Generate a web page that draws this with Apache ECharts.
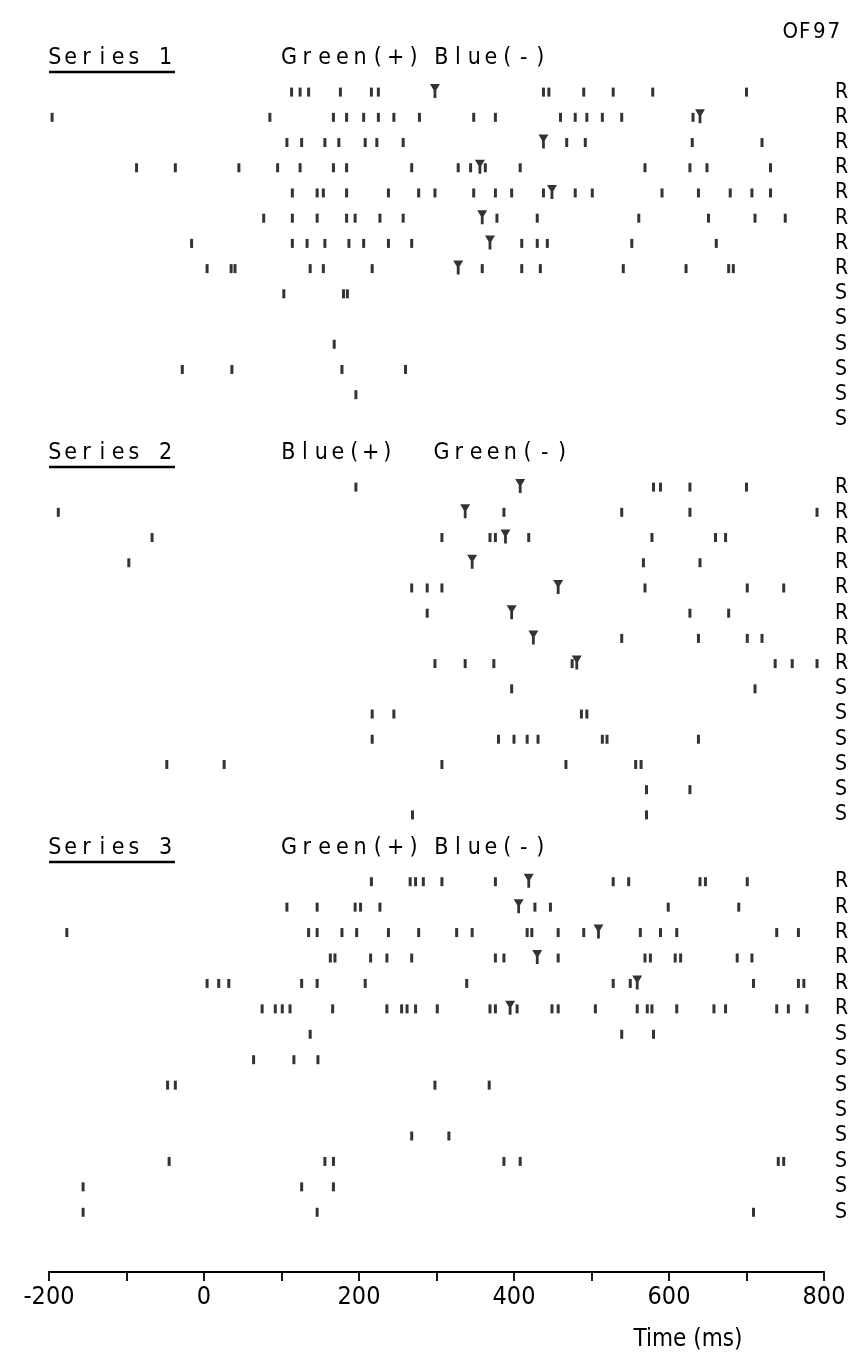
<!DOCTYPE html>
<html>
<head>
<meta charset="utf-8">
<title>OF97 spike rasters</title>
<script src="https://cdn.jsdelivr.net/npm/echarts@6/dist/echarts.min.js"></script>
<style>
  html, body { margin: 0; padding: 0; background: #fff; }
  #chart { width: 852px; height: 1358px; }
</style>
</head>
<body>
<div id="chart"></div>
<script>
// ---- time axis ----
const TIME_MIN = -200;
const TIME_MAX = 800;
const TIME_TICK = 100;
const TIME_LABEL_STEP = 200;

// ---- Series 1: Green(+) Blue(-) ----
const series1Rows = ['R', 'R', 'R', 'R', 'R', 'R', 'R', 'R', 'S', 'S', 'S', 'S', 'S', 'S'];
const series1Spikes = [
  [113, 124, 135, 176, 216, 225, 438, 445, 490, 528, 579, 700],
  [-196, 85, 167, 184, 206, 225, 245, 278, 348, 376, 460, 479, 494, 514, 539, 631],
  [107, 126, 156, 174, 208, 223, 257, 468, 492, 630, 720],
  [-87, -37, 45, 95, 124, 167, 184, 268, 328, 344, 363, 408, 569, 627, 649, 731],
  [114, 146, 154, 184, 238, 277, 298, 348, 376, 397, 438, 479, 501, 591, 638, 679, 707, 731],
  [77, 114, 146, 184, 195, 227, 257, 378, 430, 561, 651, 711, 750],
  [-16, 114, 133, 156, 187, 206, 238, 268, 410, 430, 443, 552, 661],
  [4, 35, 40, 137, 154, 217, 359, 410, 434, 541, 622, 677, 683],
  [103, 180, 185],
  [],
  [168],
  [-28, 36, 178, 260],
  [196],
  []
];
const series1Markers = [298, 640, 438, 356, 449, 359, 369, 328, null, null, null, null, null, null];

// ---- Series 2: Blue(+) Green(-) ----
const series2Rows = ['R', 'R', 'R', 'R', 'R', 'R', 'R', 'R', 'S', 'S', 'S', 'S', 'S', 'S'];
const series2Spikes = [
  [196, 580, 589, 627, 700],
  [-188, 387, 539, 627, 791],
  [-67, 307, 369, 376, 419, 578, 660, 673],
  [-97, 567, 640],
  [268, 288, 307, 569, 701, 748],
  [288, 627, 677],
  [539, 638, 701, 720],
  [298, 337, 374, 475, 737, 759, 791],
  [397, 711],
  [217, 245, 487, 494],
  [217, 380, 400, 417, 431, 514, 520, 638],
  [-48, 26, 307, 467, 557, 564],
  [571, 627],
  [269, 571]
];
const series2Markers = [408, 337, 389, 346, 457, 397, 425, 481, null, null, null, null, null, null];

// ---- Series 3: Green(+) Blue(-) ----
const series3Rows = ['R', 'R', 'R', 'R', 'R', 'R', 'S', 'S', 'S', 'S', 'S', 'S', 'S', 'S'];
const series3Spikes = [
  [216, 266, 273, 283, 307, 376, 528, 548, 640, 647, 701],
  [107, 146, 195, 202, 227, 427, 447, 599, 690],
  [-177, 135, 146, 178, 197, 238, 277, 326, 346, 417, 423, 457, 490, 563, 589, 610, 739, 767],
  [163, 169, 215, 236, 268, 376, 387, 457, 569, 576, 608, 615, 688, 707],
  [4, 19, 32, 126, 146, 208, 339, 528, 550, 709, 767, 774],
  [75, 92, 101, 111, 166, 236, 255, 262, 273, 301, 369, 376, 404, 449, 457, 505, 559, 572, 578, 610, 658, 673, 739, 754, 778],
  [137, 539, 580],
  [64, 116, 147],
  [-47, -37, 298, 368],
  [],
  [268, 316],
  [-45, 156, 167, 387, 408, 741, 748],
  [-156, 126, 167],
  [-156, 146, 709]
];
const series3Markers = [419, 406, 509, 430, 559, 395, null, null, null, null, null, null, null, null];

// ---- text ----
const figureCode = 'OF97';
const blockTitles = ['Series 1', 'Series 2', 'Series 3'];
const blockConditions = [
  ['Green(+)', 'Blue(-)'],
  ['Blue(+)', 'Green(-)'],
  ['Green(+)', 'Blue(-)']
];
const axisTitle = 'Time (ms)';

// ---- layout ----
const FONT = "'DejaVu Sans Condensed', 'DejaVu Sans', 'Liberation Sans', sans-serif";
const INK = '#000';
const PLOT_LEFT = 49;
const PLOT_RIGHT = 28;
const blocks = [
  { rows: series1Rows, spikes: series1Spikes, markers: series1Markers, top: 79.5, height: 353, headerY: 58 },
  { rows: series2Rows, spikes: series2Spikes, markers: series2Markers, top: 474.5, height: 353, headerY: 453 },
  { rows: series3Rows, spikes: series3Spikes, markers: series3Markers, top: 869, height: 356, headerY: 848 }
];
const AXIS_OFFSET = 47;

// inverted triangle on a short stem: the stimulus marker
const MARKER_PATH = 'path://M0,0L10,0L6.4,6L6.4,14L3.6,14L3.6,6Z';

// evenly advanced lettering, one glyph per cell
function lettering(str, x0, y, advance, size) {
  const out = [];
  let x = x0;
  for (const ch of str) {
    if (ch !== ' ') {
      out.push({
        type: 'text',
        x: x + advance / 2,
        y: y,
        style: {
          text: ch,
          fill: INK,
          font: size + 'px ' + FONT,
          textAlign: 'center',
          textVerticalAlign: 'middle'
        },
        silent: true
      });
    }
    x += advance;
  }
  return out;
}

const grids = [];
const xAxes = [];
const yAxes = [];
const seriesList = [];
const graphics = [];

blocks.forEach((b, k) => {
  const last = k === blocks.length - 1;
  grids.push({ left: PLOT_LEFT, right: PLOT_RIGHT, top: b.top, height: b.height, containLabel: false });
  xAxes.push({
    gridIndex: k,
    type: 'value',
    min: TIME_MIN,
    max: TIME_MAX,
    interval: TIME_TICK,
    show: last,
    position: 'bottom',
    offset: last ? AXIS_OFFSET : 0,
    splitLine: { show: false },
    axisLine: { show: true, onZero: false, lineStyle: { color: INK, width: 2.2 } },
    axisTick: { show: true, length: 9, lineStyle: { color: INK, width: 1.8 } },
    axisLabel: {
      show: true,
      color: INK,
      fontFamily: FONT,
      fontSize: 25,
      margin: 13,
      formatter: v => (v % TIME_LABEL_STEP === 0 ? String(v) : '')
    }
  });
  yAxes.push({
    gridIndex: k,
    type: 'category',
    data: b.rows,
    inverse: true,
    position: 'right',
    axisLine: { show: false },
    axisTick: { show: false },
    splitLine: { show: false },
    axisLabel: { interval: 0, color: INK, fontFamily: FONT, fontSize: 21, margin: 11, align: 'left' }
  });

  const spikeData = [];
  b.spikes.forEach((row, i) => row.forEach(t => spikeData.push([t, i])));
  const markerData = [];
  b.markers.forEach((t, i) => { if (t !== null) markerData.push([t, i]); });

  seriesList.push({
    type: 'scatter',
    name: blockTitles[k] + ' spikes',
    xAxisIndex: k,
    yAxisIndex: k,
    data: spikeData,
    symbol: 'rect',
    symbolSize: [3, 9],
    itemStyle: { color: INK },
    silent: true,
    animation: false
  });
  seriesList.push({
    type: 'scatter',
    name: blockTitles[k] + ' onset',
    xAxisIndex: k,
    yAxisIndex: k,
    data: markerData,
    symbol: MARKER_PATH,
    symbolSize: [10, 14],
    symbolOffset: [0, -1],
    itemStyle: { color: INK },
    silent: true,
    animation: false
  });

  // block heading: underlined title plus the two stimulus conditions
  graphics.push(...lettering(blockTitles[k], 47, b.headerY, 15.8, 23));
  graphics.push({
    type: 'line',
    shape: { x1: 49, y1: b.headerY + 14, x2: 175, y2: b.headerY + 14 },
    style: { stroke: INK, lineWidth: 2.6 },
    silent: true
  });
  const cond = blockConditions[k];
  graphics.push(...lettering(cond[0], 280, b.headerY, cond[0].length === 8 ? 17.8 : 16.5, 23));
  graphics.push(...lettering(cond[1], 433, b.headerY, cond[1].length === 8 ? 17.2 : 16.5, 23));
});

graphics.push(...lettering(figureCode, 783, 32, 14.5, 22));
graphics.push({
  type: 'text',
  x: 688,
  y: 1340,
  style: {
    text: axisTitle,
    fill: INK,
    font: '24px ' + FONT,
    textAlign: 'center',
    textVerticalAlign: 'middle'
  },
  silent: true
});

const chart = echarts.init(document.getElementById('chart'), null, { renderer: 'canvas' });
chart.setOption({
  animation: false,
  backgroundColor: '#fff',
  grid: grids,
  xAxis: xAxes,
  yAxis: yAxes,
  series: seriesList,
  graphic: { elements: graphics }
});
</script>
</body>
</html>
